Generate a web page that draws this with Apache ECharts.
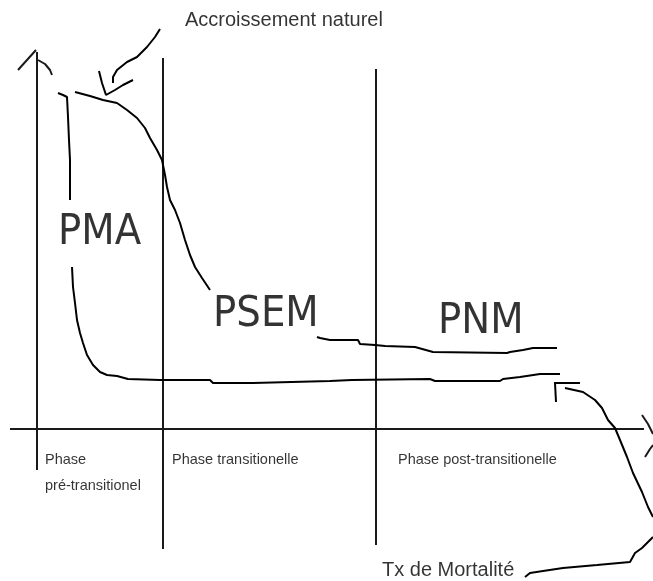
<!DOCTYPE html>
<html>
<head>
<meta charset="utf-8">
<script src="https://cdn.jsdelivr.net/npm/echarts@6/dist/echarts.min.js"></script>
<style>
  html, body { margin: 0; padding: 0; background: #fff; }
  #chart { width: 653px; height: 581px; }
</style>
</head>
<body>
<div id="chart"></div>
<script>
// sketch drawn on a 653 x 581 value plane (y grows downward)
const yAxisLine = [[37, 470], [37, 52]];
const yArrowLeft = [[18, 70], [36, 50]];
const yArrowRight = [[38, 60], [45, 64], [50, 70], [52, 75]];
const xAxisLine = [[10, 429], [644, 429]];
const xArrowUp = [[642, 415], [648, 424], [653, 434]];
const xArrowDown = [[645, 457], [650, 449], [653, 445]];
const phaseLine1 = [[163, 58], [163, 549]];
const phaseLine2 = [[376, 69], [376, 545]];

// courbe haute (natalité) : avant et après le libellé PSEM
const birthA = [[75, 92], [90, 96], [103, 100], [117, 103], [127, 110], [137, 118], [145, 128],
  [150, 138], [157, 150], [162, 160], [165, 175], [167, 187], [170, 200], [175, 210], [180, 223],
  [185, 240], [190, 255], [195, 267], [202, 278], [210, 290]];
const birthB = [[317, 337], [320, 338], [330, 340], [358, 340], [360, 344], [375, 345], [385, 346],
  [415, 347], [433, 352], [507, 353], [510, 352], [523, 350], [533, 348], [557, 348]];

// courbe basse (mortalité) : avant et après le libellé PMA
const deathA = [[58, 93], [63, 95], [67, 97], [68, 117], [69, 140], [70, 160], [70, 200]];
const deathB = [[72, 267], [73, 287], [75, 303], [77, 320], [80, 333], [83, 343], [87, 355],
  [93, 365], [100, 372], [107, 375], [117, 376], [128, 379], [160, 380], [210, 380], [213, 383],
  [253, 383], [255, 381], [330, 381], [352, 380], [353, 379], [430, 379], [435, 381], [500, 381],
  [503, 379], [520, 377], [540, 374], [560, 374]];

// flèche "Accroissement naturel"
const growthStem = [[160, 29], [155, 37], [147, 47], [137, 57], [127, 62], [117, 70], [113, 77], [113, 83]];
const growthHead = [[99, 71], [102, 83], [106, 95], [115, 90], [123, 85], [133, 80]];

// flèche "Tx de Mortalité"
const deathStemLow = [[525, 577], [530, 573], [543, 571], [563, 568], [597, 565], [630, 562],
  [635, 553], [642, 548], [648, 542], [653, 537]];
const deathStemHigh = [[565, 388], [583, 392], [595, 400], [602, 408], [608, 420], [615, 428],
  [620, 440], [627, 457], [633, 473], [642, 492], [648, 507], [653, 517]];
const deathHeadH = [[554, 383], [580, 383]];
const deathHeadV = [[555, 383], [556, 402]];

// libellés
const bigLabels = [['PMA', 58, 233], ['PSEM', 213, 315], ['PNM', 438, 322]];
const phaseLabels = [['Phase', 45, 460], ['pré-transitionel', 45, 486],
  ['Phase transitionelle', 172, 460], ['Phase post-transitionelle', 398, 460]];
const noteLabels = [['Accroissement naturel', 185, 20], ['Tx de Mortalité', 382, 570]];

const chart = echarts.init(document.getElementById('chart'));

function stroke(data, color, width) {
  return {
    type: 'line', data: data, showSymbol: false, symbol: 'none', silent: true,
    lineStyle: { color: color || '#000', width: width || 2 }
  };
}
function labels(list, size, family) {
  return {
    type: 'scatter', symbolSize: 0, silent: true,
    data: list.map(l => ({ name: l[0], value: [l[1], l[2]] })),
    label: {
      show: true, position: 'inside', align: 'left', verticalAlign: 'middle',
      formatter: '{b}', color: '#000', fontSize: size, fontFamily: family
    }
  };
}

const axisCol = '#1a1a1a';
chart.setOption({
  animation: false,
  backgroundColor: '#fff',
  grid: { left: 0, right: 0, top: 0, bottom: 0 },
  xAxis: { type: 'value', min: 0, max: 653, show: false },
  yAxis: { type: 'value', min: 0, max: 581, inverse: true, show: false },
  series: [
    stroke(yAxisLine, axisCol), stroke(yArrowLeft, axisCol), stroke(yArrowRight, axisCol),
    stroke(xAxisLine, axisCol), stroke(xArrowUp, axisCol), stroke(xArrowDown, axisCol),
    stroke(phaseLine1, axisCol), stroke(phaseLine2, axisCol),
    stroke(birthA), stroke(birthB), stroke(deathA), stroke(deathB),
    stroke(growthStem), stroke(growthHead),
    stroke(deathStemLow), stroke(deathStemHigh), stroke(deathHeadH), stroke(deathHeadV),
    labels(bigLabels, 43, "'Liberation Sans Narrow', 'DejaVu Sans Condensed', 'Liberation Sans', sans-serif"),
    labels(phaseLabels, 14.5, "'Liberation Sans', sans-serif"),
    labels(noteLabels, 20, "'Liberation Sans', sans-serif")
  ]
});
window.addEventListener('resize', () => chart.resize());
</script>
</body>
</html>
